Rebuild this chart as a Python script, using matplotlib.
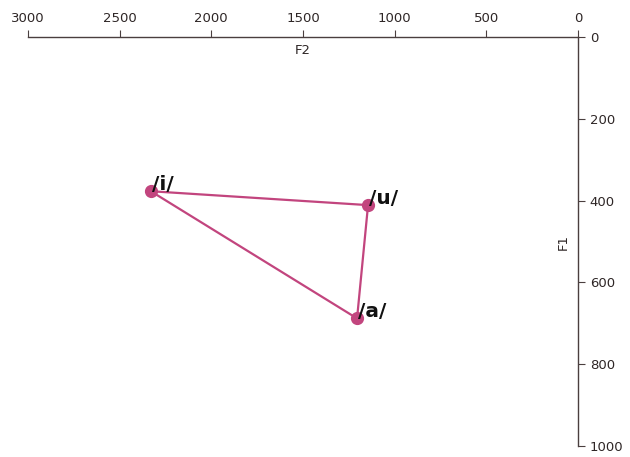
import matplotlib
matplotlib.use("Agg")
import matplotlib.pyplot as plt

vowels = ['/i/', '/u/', '/a/']
f2 = [2330, 1145, 1205]
f1 = [377, 411, 688]

line_col = '#c2457e'
text_col = '#2e2626'

fig = plt.figure(figsize=(6.3, 4.57), dpi=100)
ax = fig.add_axes([0.0444, 0.024, 0.873, 0.895])

# closed triangle i -> u -> a -> i
ax.plot(f2 + [f2[0]], f1 + [f1[0]], '-', color=line_col, lw=1.6,
        marker='o', markersize=8.5, markevery=[0, 1, 2])
for v, x, y in zip(vowels, f2, f1):
    ax.text(x - 5, y - 17, v, fontsize=14.5, fontweight='bold', color='#111111',
            ha='left', va='center')

ax.set_xlim(3000, 0)
ax.set_ylim(1000, 0)
ax.set_xticks([3000, 2500, 2000, 1500, 1000, 500, 0])
ax.set_yticks([0, 200, 400, 600, 800, 1000])
ax.xaxis.tick_top()
ax.yaxis.tick_right()
ax.text(0.5, 0.968, 'F2', transform=ax.transAxes, fontsize=9.5,
        color=text_col, ha='center', va='center')
ax.text(0.973, 0.5, 'F1', transform=ax.transAxes, fontsize=9.5,
        color=text_col, ha='center', va='center', rotation=90)

for s in ['left', 'bottom']:
    ax.spines[s].set_visible(False)
for s in ['top', 'right']:
    ax.spines[s].set_color('#4a3f3f')
    ax.spines[s].set_linewidth(1.0)
ax.tick_params(colors='#4a3f3f', labelcolor=text_col, labelsize=9.5, length=5)

fig.savefig('out.png', dpi=100)
